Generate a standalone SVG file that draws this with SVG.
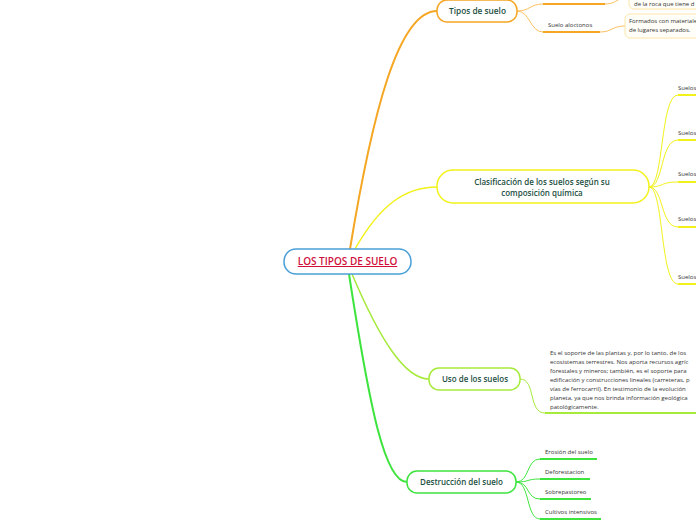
<svg xmlns="http://www.w3.org/2000/svg" width="696" height="520" viewBox="0 0 696 520">
<style>
.node{fill:#fff;stroke-width:1.5}
.t{font-family:"Open Sans","Noto Sans",sans-serif;font-weight:600;fill:#1d4f3f;text-anchor:middle}
.s{font-family:"Open Sans","Noto Sans",sans-serif;fill:#333;font-size:6px}
.c{fill:none}
</style>
<rect width="696" height="520" fill="#fff"/>
<g id="connectors">
  <path class="c" d="M350,249 C372,115 398,11 437,11" stroke="#f5a623" stroke-width="2"/>
  <path class="c" d="M355,249 C380,205 405,187 437,187" stroke="#f2f21a" stroke-width="1.5"/>
  <path class="c" d="M352,274 C380,340 405,379 429,379" stroke="#a6ea3a" stroke-width="1.5"/>
  <path class="c" d="M349,274 C370,410 385,482 407,482" stroke="#3ee43e" stroke-width="2"/>
  <g stroke="#fcc060" stroke-width="1" class="c">
    <path d="M517,11 C530,11 530,4 543,4"/>
    <path d="M517,11 C530,11 530,32 543,32"/>
    <path d="M605,4 C617,4 617,-3 629,-3"/>
    <path d="M600,32 C612,32 612,26 625,26"/>
  </g>
  <g stroke="#f5a623" stroke-width="2">
    <line x1="543" y1="4" x2="605" y2="4"/>
    <line x1="543" y1="32" x2="600" y2="32"/>
  </g>
  <g stroke="#f2f21a" stroke-width="1" class="c">
    <path d="M649,187 C664,187 660,95 678,95"/>
    <path d="M649,187 C664,187 660,140 678,140"/>
    <path d="M649,187 C664,187 660,182 678,182"/>
    <path d="M649,187 C664,187 660,227 678,227"/>
    <path d="M649,187 C664,187 660,284 678,284"/>
  </g>
  <g stroke="#f2f21a" stroke-width="2">
    <line x1="678" y1="95" x2="696" y2="95"/>
    <line x1="678" y1="140" x2="696" y2="140"/>
    <line x1="678" y1="182" x2="696" y2="182"/>
    <line x1="678" y1="227" x2="696" y2="227"/>
    <line x1="678" y1="284" x2="696" y2="284"/>
  </g>
  <path class="c" d="M520,379 C536,379 528,413 545,413" stroke="#a6ea3a" stroke-width="1"/>
  <line x1="545" y1="413" x2="696" y2="413" stroke="#a6ea3a" stroke-width="2"/>
  <g stroke="#3ee43e" stroke-width="1" class="c">
    <path d="M516,482 C530,482 526,459 540,459"/>
    <path d="M516,482 C530,482 526,479 540,479"/>
    <path d="M516,482 C530,482 526,499 540,499"/>
    <path d="M516,482 C530,482 526,519 540,519"/>
  </g>
  <g stroke="#3ee43e" stroke-width="2">
    <line x1="540" y1="459" x2="597" y2="459"/>
    <line x1="540" y1="479" x2="590" y2="479"/>
    <line x1="540" y1="499" x2="591" y2="499"/>
    <line x1="540" y1="519" x2="601" y2="519"/>
  </g>
</g>
<g id="central">
  <rect class="node" x="284" y="249" width="127" height="25" rx="12" stroke="#4a9fd8"/>
  <text x="347.5" y="265" font-family="Open Sans, Noto Sans, sans-serif" font-weight="600" font-size="10" fill="#d0103a" text-anchor="middle" text-decoration="underline">LOS TIPOS DE SUELO</text>
</g>
<g id="tipos">
  <rect class="node" x="437" y="0" width="80" height="22" rx="10" stroke="#f5a623"/>
  <text class="t" x="477.5" y="14" font-size="8.3">Tipos de suelo</text>
</g>
<g id="tipos-c1">
  <rect x="629" y="-10" width="80" height="19" rx="5" fill="#fffef8" stroke="#fde6a8" stroke-width="1"/>
  <text class="s" x="634" y="6" font-size="5.8">de la roca que tiene d</text>
</g>
<g id="aloctonos">
  <text class="s" x="548" y="27" font-size="6.7">Suelo aloctonos</text>
</g>
<g id="aloctonos-desc">
  <rect x="625" y="14" width="80" height="24" rx="5" fill="#fffef8" stroke="#fde6a8" stroke-width="1"/>
  <text class="s" x="629" y="23" font-size="5.9">Formados con materiale</text>
  <text class="s" x="629" y="32" font-size="5.9">de lugares separados.</text>
</g>
<g id="clasificacion">
  <rect class="node" x="437" y="170" width="212" height="33" rx="16" stroke="#f2f21a"/>
  <text class="t" x="542" y="185" font-size="8">Clasificación de los suelos según su</text>
  <text class="t" x="542" y="195.5" font-size="8">composición química</text>
</g>
<g id="suelos1"><text class="s" x="678" y="90">Suelos</text></g>
<g id="suelos2"><text class="s" x="678" y="135">Suelos</text></g>
<g id="suelos3"><text class="s" x="678" y="176">Suelos</text></g>
<g id="suelos4"><text class="s" x="678" y="221">Suelos</text></g>
<g id="suelos5"><text class="s" x="678" y="279" font-size="5.6">Suelos</text></g>
<g id="uso">
  <rect class="node" x="429" y="368" width="91" height="22" rx="10" stroke="#a6ea3a"/>
  <text class="t" x="475" y="382" font-size="8">Uso de los suelos</text>
</g>
<g id="uso-desc">
  <text class="s" x="550" y="355" font-size="6.6">Es el soporte de las plantas y, por lo tanto, de los</text>
  <text class="s" x="550" y="364" font-size="6.6">ecosistemas terrestres. Nos aporta recursos agríc</text>
  <text class="s" x="550" y="373" font-size="6.6">forestales y mineros; también,  es el soporte para</text>
  <text class="s" x="550" y="382" font-size="6.6">edificación y construcciones lineales (carreteras, p</text>
  <text class="s" x="550" y="391" font-size="6.6">vías de ferrocarril). En testimonio de la evolución</text>
  <text class="s" x="550" y="400" font-size="6.6">planeta, ya que nos brinda información geológica</text>
  <text class="s" x="550" y="409" font-size="6.6">patológicamente.</text>
</g>
<g id="destruccion">
  <rect class="node" x="407" y="471" width="109" height="22" rx="10" stroke="#3ee43e"/>
  <text class="t" x="461.5" y="485" font-size="8">Destrucción del suelo</text>
</g>
<g id="erosion"><text class="s" x="545" y="454" font-size="5.6">Erosión del suelo</text></g>
<g id="deforestacion"><text class="s" x="545" y="474" font-size="5.6">Deforestacion</text></g>
<g id="sobrepastoreo"><text class="s" x="545" y="494" font-size="5.6">Sobrepastoreo</text></g>
<g id="cultivos"><text class="s" x="545" y="514" font-size="5.6">Cultivos intensivos</text></g>
</svg>
